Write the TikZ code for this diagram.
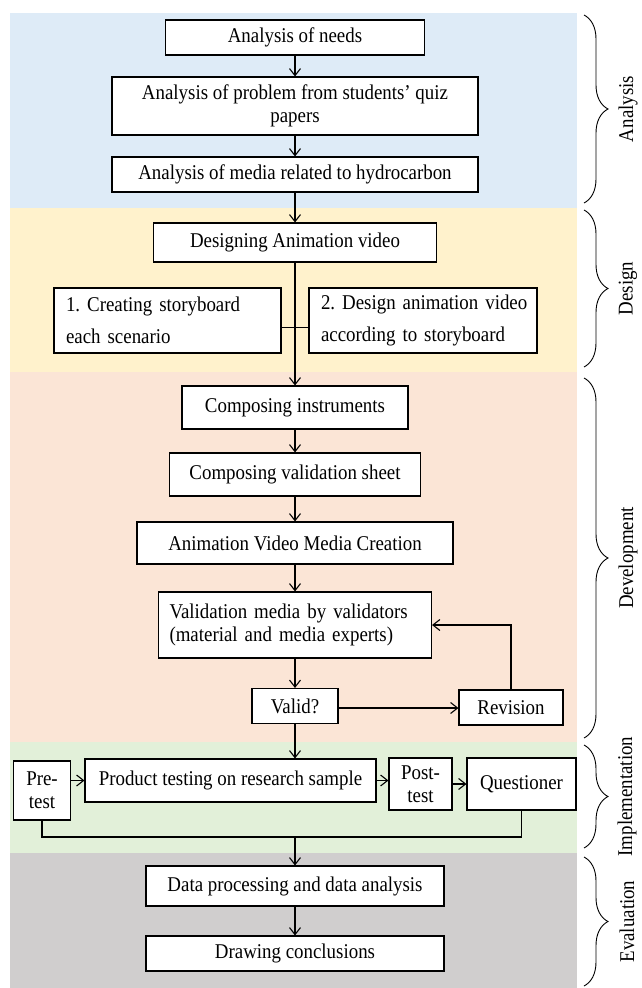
\documentclass[tikz,border=0pt]{standalone}
\usepackage{fontspec}
\setmainfont{Liberation Serif}[FakeStretch=0.9]
\usetikzlibrary{arrows.meta,decorations.pathreplacing}
\definecolor{anaBlue}{HTML}{DEEBF7}
\definecolor{desYellow}{HTML}{FFF2CC}
\definecolor{devPink}{HTML}{FBE5D6}
\definecolor{impGreen}{HTML}{E2F0D9}
\definecolor{evaGray}{HTML}{D0CECE}
\frenchspacing
\begin{document}
\begin{tikzpicture}[x=1pt,y=-1pt,
  every node/.style={font=\fontsize{21}{23}\selectfont},
  box/.style={shape=rectangle,draw,fill=white,line width=1.1pt,inner sep=3pt},
  flow/.style={-{Straight Barb[length=7pt,width=11pt]},line width=1.1pt},
  link/.style={line width=1.1pt},
  phase/.style={decorate,decoration={brace,amplitude=24pt},line width=0.9pt}]
\useasboundingbox (0,0) rectangle (641,988);
% phase bands
\fill [anaBlue] (10,13) rectangle (577,208);
\fill [desYellow] (10,208) rectangle (577,372);
\fill [devPink] (10,372) rectangle (577,742);
\fill [impGreen] (10,742) rectangle (577,853);
\fill [evaGray] (10,853) rectangle (577,988);
% analysis
\node (needs) at (295,37.5) [box,minimum width=259pt,minimum height=35pt]{Analysis of needs};
\node (problem) at (295,106) [box,minimum width=366pt,minimum height=58pt,align=center]{Analysis of problem from students' quiz\\papers};
\node (media) at (295,174.5) [box,minimum width=366pt,minimum height=35pt]{Analysis of media related to hydrocarbon};
% design
\node (designing) at (295,242.5) [box,minimum width=283pt,minimum height=39pt]{Designing Animation video};
\node (story) at (167.5,320.5) [box,minimum width=227pt,minimum height=65pt,text width=203pt,align=left]{\mbox{1. Creating storyboard}\\[9pt]\mbox{each scenario}};
\node (anim) at (423,320.5) [box,minimum width=228pt,minimum height=65pt,text width=204pt,align=left]{\mbox{2. Design animation video}\\[9pt]\mbox{according to storyboard}};
% development
\node (instr) at (295,407.5) [box,minimum width=226pt,minimum height=43pt]{Composing instruments};
\node (sheet) at (295,474.5) [box,minimum width=251pt,minimum height=43pt]{Composing validation sheet};
\node (creation) at (295,543) [box,minimum width=316pt,minimum height=42pt]{Animation Video Media Creation};
\node (validation) at (295,625) [box,minimum width=273pt,minimum height=66pt,text width=251pt,align=left]{\mbox{Validation media by validators}\\\mbox{(material and media experts)}};
\node (valid) at (295,706) [box,minimum width=86pt,minimum height=35pt]{Valid?};
\node (revision) at (511,707.5) [box,minimum width=104pt,minimum height=35pt]{Revision};
% implementation
\node (pretest) at (42,790.5) [box,minimum width=57pt,minimum height=59pt,align=center]{Pre-\\test};
\node (product) at (230.5,780.5) [box,minimum width=291pt,minimum height=43pt]{Product testing on research sample};
\node (posttest) at (420.5,784) [box,minimum width=63pt,minimum height=52pt,align=center]{Post-\\test};
\node (questioner) at (521.5,784) [box,minimum width=109pt,minimum height=52pt]{Questioner};
\coordinate (merge) at (295,837);
% evaluation
\node (dataproc) at (295,886) [box,minimum width=298pt,minimum height=40pt]{Data processing and data analysis};
\node (conclusions) at (295,953.5) [box,minimum width=298pt,minimum height=35pt]{Drawing conclusions};
% connectors
\draw [flow] (needs) to (problem);
\draw [flow] (problem) to (media);
\draw [flow] (media) to (designing);
\draw [flow] (designing) to (instr);
\draw [link] ([yshift=-7pt]story.east) to ([yshift=-7pt]anim.west);
\draw [flow] (instr) to (sheet);
\draw [flow] (sheet) to (creation);
\draw [flow] (creation) to (validation);
\draw [flow] (validation) to (valid);
\draw [flow] (valid.east |- 0,708) to (revision.west |- 0,708);
\draw [flow] (revision.north) |- (validation.east);
\draw [flow] (valid.south) to (valid.south |- product.north);
\draw [flow] (pretest.east |- product.west) to (product.west);
\draw [flow] (product.east) to (product.east -| posttest.west);
\draw [flow] (posttest) to (questioner);
\draw [link] (pretest.south) |- (merge) -| (questioner.south);
\draw [flow] (merge) to (dataproc);
\draw [flow] (dataproc) to (conclusions);
% phase braces
\draw [phase] (584,15) -- (584,203);
\draw [phase] (584,210) -- (584,367);
\draw [phase] (584,378) -- (584,738);
\draw [phase] (584,745) -- (584,848);
\draw [phase] (584,857) -- (584,986);
\node (anaLabel) at (628,109) [rotate=90]{Analysis};
\node (desLabel) at (628,288.5) [rotate=90]{Design};
\node (devLabel) at (628,558) [rotate=90]{Development};
\node (impLabel) at (627,796.5) [rotate=90]{Implementation};
\node (evaLabel) at (627,921.5) [rotate=90]{Evaluation};
\end{tikzpicture}
\end{document}
